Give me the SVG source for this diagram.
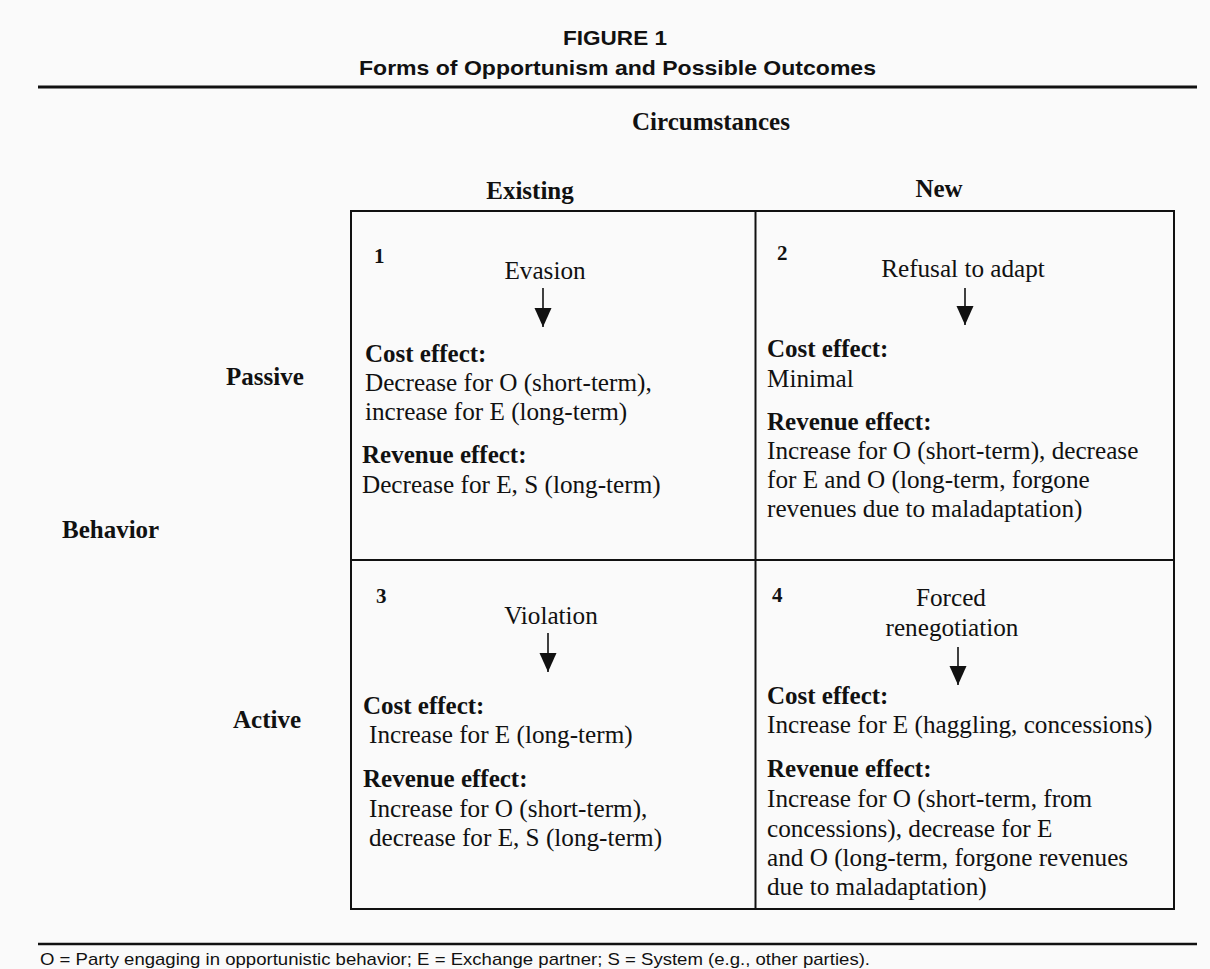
<svg xmlns="http://www.w3.org/2000/svg" width="1210" height="969" viewBox="0 0 1210 969">
<style>
.bg{fill:#fafafa}
.hd{font-family:"Liberation Sans",Arial,sans-serif;font-weight:bold;font-size:21px;fill:#111}
.ft{font-family:"Liberation Sans",Arial,sans-serif;font-size:17px;fill:#111}
.lbl{font-family:"Liberation Serif","Times New Roman",serif;font-weight:bold;font-size:25px;fill:#111}
.num{font-family:"Liberation Serif","Times New Roman",serif;font-weight:bold;font-size:21px;fill:#111}
.t{font-family:"Liberation Serif","Times New Roman",serif;font-size:25.2px;fill:#111}
.b{font-family:"Liberation Serif","Times New Roman",serif;font-weight:bold;font-size:25px;fill:#111}
.mid{text-anchor:middle}
.rule{stroke:#111;stroke-width:3}
.grid{fill:none;stroke:#111;stroke-width:2}
.arr{stroke:#111;stroke-width:1.6;fill:none}
</style>
<defs>
<marker id="ah" markerUnits="userSpaceOnUse" viewBox="0 -9 19 18" refX="19" refY="0" markerWidth="19" markerHeight="18" orient="auto">
<path d="M0,-8.5 L19,0 L0,8.5 z" fill="#111"/>
</marker>
</defs>
<rect class="bg" x="0" y="0" width="1210" height="969"/>
<g id="header">
<text class="hd mid" x="615" y="45" textLength="104" lengthAdjust="spacingAndGlyphs">FIGURE 1</text>
<text class="hd mid" x="617.5" y="75" textLength="517" lengthAdjust="spacingAndGlyphs">Forms of Opportunism and Possible Outcomes</text>
<line class="rule" x1="38" y1="87" x2="1197" y2="87"/>
</g>
<g id="axis-labels">
<text class="lbl mid" x="711" y="130">Circumstances</text>
<text class="lbl mid" x="530" y="199">Existing</text>
<text class="lbl mid" x="939" y="197">New</text>
<text class="lbl" x="226" y="385">Passive</text>
<text class="lbl" x="62" y="538">Behavior</text>
<text class="lbl" x="233" y="728">Active</text>
</g>
<g id="grid">
<rect class="grid" x="351" y="211" width="823" height="698"/>
<line class="grid" x1="755.5" y1="211" x2="755.5" y2="909"/>
<line class="grid" x1="351" y1="560" x2="1174" y2="560"/>
</g>
<g id="cell1">
<text class="num" x="374" y="263">1</text>
<text class="t mid" x="545" y="279">Evasion</text>
<text class="b" x="365" y="362">Cost effect:</text>
<text class="t" x="365" y="391">Decrease for O (short-term),</text>
<text class="t" x="365" y="420">increase for E (long-term)</text>
<text class="b" x="362" y="463">Revenue effect:</text>
<text class="t" x="362" y="493">Decrease for E, S (long-term)</text>
</g>
<g id="cell2">
<text class="num" x="777" y="260">2</text>
<text class="t mid" x="963" y="277">Refusal to adapt</text>
<text class="b" x="767" y="357">Cost effect:</text>
<text class="t" x="767" y="387">Minimal</text>
<text class="b" x="767" y="430">Revenue effect:</text>
<text class="t" x="767" y="459">Increase for O (short-term), decrease</text>
<text class="t" x="767" y="488">for E and O (long-term, forgone</text>
<text class="t" x="767" y="517">revenues due to maladaptation)</text>
</g>
<g id="cell3">
<text class="num" x="376" y="603">3</text>
<text class="t mid" x="551" y="624">Violation</text>
<text class="b" x="363" y="714">Cost effect:</text>
<text class="t" x="369" y="743">Increase for E (long-term)</text>
<text class="b" x="363" y="787">Revenue effect:</text>
<text class="t" x="369" y="817">Increase for O (short-term),</text>
<text class="t" x="369" y="846">decrease for E, S (long-term)</text>
</g>
<g id="cell4">
<text class="num" x="772" y="602">4</text>
<text class="t mid" x="951" y="606">Forced</text>
<text class="t mid" x="952" y="636">renegotiation</text>
<text class="b" x="767" y="704">Cost effect:</text>
<text class="t" x="767" y="733">Increase for E (haggling, concessions)</text>
<text class="b" x="767" y="777">Revenue effect:</text>
<text class="t" x="767" y="807">Increase for O (short-term, from</text>
<text class="t" x="767" y="837">concessions), decrease for E</text>
<text class="t" x="767" y="866">and O (long-term, forgone revenues</text>
<text class="t" x="767" y="895">due to maladaptation)</text>
</g>
<g id="connectors">
<line class="arr" x1="543" y1="288" x2="543" y2="327" marker-end="url(#ah)"/>
<line class="arr" x1="965" y1="288" x2="965" y2="325" marker-end="url(#ah)"/>
<line class="arr" x1="548" y1="633" x2="548" y2="672" marker-end="url(#ah)"/>
<line class="arr" x1="958" y1="647" x2="958" y2="685" marker-end="url(#ah)"/>
</g>
<g id="footer">
<line class="rule" x1="38" y1="944" x2="1197" y2="944" style="stroke-width:2.5"/>
<text class="ft" x="40" y="965" textLength="830" lengthAdjust="spacingAndGlyphs">O = Party engaging in opportunistic behavior; E = Exchange partner; S = System (e.g., other parties).</text>
</g>
</svg>
